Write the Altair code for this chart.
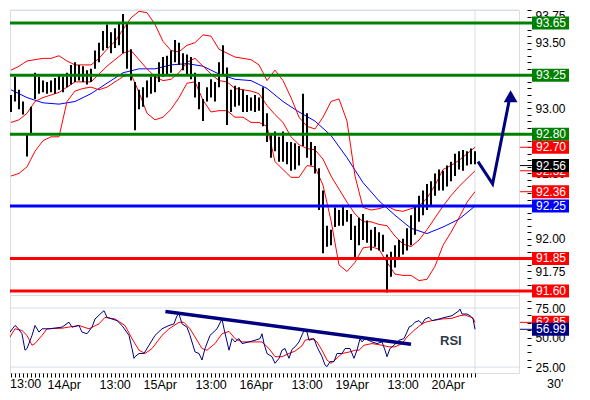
import altair as alt
import pandas as pd

# ---------------- data ----------------
# time axis: trading hours counted from 13Apr 00:00 (weekend removed)
bar_hours = list(range(15, 132))
bar_high = [93.10, 93.24, 93.14, 93.05, 92.81, 93.01, 93.27, 93.24, 93.21, 93.20,
            93.21, 93.23, 93.26, 93.24, 93.27, 93.33, 93.35, 93.33, 93.32, 93.29,
            93.30, 93.44, 93.50, 93.59, 93.64, 93.58, 93.61, 93.65, 93.72, 93.65,
            93.45, 93.20, 93.14, 93.16, 93.21, 93.24, 93.26, 93.35, 93.39, 93.40,
            93.44, 93.52, 93.50, 93.42, 93.41, 93.39, 93.27, 93.20, 93.07, 93.16,
            93.22, 93.20, 93.35, 93.48, 93.31, 93.14, 93.17, 93.16, 93.14, 93.10,
            93.08, 93.10, 93.08, 93.16, 92.96, 92.80, 92.82, 92.78, 92.82, 92.74,
            92.74, 92.73, 92.71, 93.11, 92.96, 92.74, 92.71, 92.54, 92.37, 92.10,
            92.07, 92.24, 92.22, 92.25, 92.22, 92.19, 92.10, 92.16, 92.19, 92.14,
            92.07, 92.09, 92.05, 92.03, 91.88, 91.90, 91.95, 91.99, 92.00, 92.08,
            92.18, 92.25, 92.33, 92.37, 92.42, 92.44, 92.50, 92.53, 92.52, 92.56,
            92.59, 92.65, 92.67, 92.68, 92.67, 92.69, 92.67]
bar_low = [92.97, 93.05, 92.99, 92.95, 92.63, 92.80, 93.07, 93.11, 93.12, 93.11,
           93.12, 93.11, 93.14, 93.12, 93.16, 93.18, 93.20, 93.21, 93.20, 93.18,
           93.20, 93.30, 93.35, 93.44, 93.46, 93.42, 93.46, 93.48, 93.42, 93.30,
           93.21, 92.83, 92.99, 93.01, 93.08, 93.11, 93.12, 93.20, 93.24, 93.26,
           93.27, 93.35, 93.33, 93.29, 93.26, 93.22, 93.08, 92.99, 92.90, 93.05,
           93.08, 93.05, 93.16, 93.26, 92.87, 92.97, 93.01, 93.02, 92.97, 92.97,
           92.98, 92.97, 92.98, 92.86, 92.74, 92.62, 92.67, 92.59, 92.59, 92.57,
           92.52, 92.53, 92.56, 92.71, 92.62, 92.56, 92.50, 92.22, 91.89, 91.94,
           91.95, 92.09, 92.10, 92.10, 92.13, 91.99, 91.86, 91.95, 91.99, 91.97,
           91.91, 91.94, 91.91, 91.90, 91.59, 91.71, 91.78, 91.86, 91.88, 91.91,
           91.95, 92.03, 92.13, 92.18, 92.22, 92.25, 92.33, 92.37, 92.37, 92.40,
           92.44, 92.48, 92.53, 92.52, 92.56, 92.57, 92.57]
last_close = 92.56

band_hours = list(range(15, 132, 2))
band_upper = [93.29, 93.32, 93.36, 93.37, 93.38, 93.38, 93.40, 93.36, 93.33, 93.33,
              93.33, 93.38, 93.45, 93.51, 93.60, 93.69, 93.74, 93.73, 93.64, 93.51,
              93.44, 93.43, 93.48, 93.50, 93.56, 93.55, 93.45, 93.42, 93.39, 93.38,
              93.37, 93.33, 93.21, 93.29, 93.21, 93.08, 92.93, 92.86, 92.84, 92.93,
              93.05, 93.07, 92.90, 92.48, 92.24, 92.22, 92.23, 92.25, 92.22, 92.21,
              92.23, 92.25, 92.31, 92.41, 92.53, 92.56, 92.60, 92.65, 92.70]
band_mid = [92.89, 92.91, 92.96, 93.05, 93.08, 93.10, 93.12, 93.16, 93.20, 93.20,
            93.20, 93.26, 93.32, 93.37, 93.42, 93.44, 93.37, 93.30, 93.24, 93.21,
            93.22, 93.27, 93.35, 93.38, 93.32, 93.26, 93.21, 93.20, 93.15, 93.14,
            93.13, 93.11, 93.02, 92.95, 92.89, 92.78, 92.72, 92.69, 92.68, 92.61,
            92.48, 92.38, 92.28, 92.19, 92.13, 92.13, 92.11, 92.10, 92.02, 91.96,
            91.94, 91.99, 92.07, 92.16, 92.25, 92.33, 92.40, 92.46, 92.52]
band_lower = [92.48, 92.50, 92.55, 92.67, 92.75, 92.78, 92.78, 93.05, 93.13, 93.15,
              93.16, 93.14, 93.16, 93.20, 93.24, 93.26, 93.12, 92.96, 92.91, 92.93,
              92.99, 93.08, 93.19, 93.20, 93.06, 92.97, 92.98, 92.98, 92.93, 92.93,
              92.89, 92.89, 92.86, 92.59, 92.53, 92.47, 92.47, 92.56, 92.55, 92.41,
              92.14, 91.80, 91.75, 91.82, 91.93, 91.94, 91.92, 91.82, 91.73, 91.72,
              91.72, 91.68, 91.69, 91.79, 91.95, 92.05, 92.16, 92.28, 92.36]

ma_hours = list(range(15, 132, 4))
ma_values = [93.14, 93.08, 93.04, 93.03, 93.05, 93.11, 93.19, 93.27, 93.30, 93.30,
             93.33, 93.34, 93.32, 93.26, 93.22, 93.21, 93.15, 93.05, 92.97, 92.90,
             92.79, 92.62, 92.43, 92.29, 92.18, 92.08, 92.04, 92.09, 92.15, 92.25]

rsi_hours = [12.75, 13.5, 14, 14.75, 16, 16.5, 17.75, 18.5, 19, 20.25, 21, 22, 22.75,
             24.5, 27.75, 29.5, 30.25, 32, 32.75, 34, 35.25, 36, 37.75, 38.25, 39,
             40.25, 41.5, 42.75, 44.5, 45.25, 45.75, 46, 47, 48.25, 49.5, 51, 52.75,
             54.5, 55.75, 56.5, 57, 57.75, 59, 59.75, 61, 62, 62.75, 63.5, 64.75,
             66.5, 67.75, 68.25, 69.5, 70.25, 71, 72, 72.75, 74.5, 76, 77.25, 77.75,
             78.25, 79, 80.25, 81, 82, 82.75, 83.5, 84.5, 85.25, 86, 87, 88.25, 89,
             89.5, 90.75, 91.5, 92.75, 93.5, 94, 94.75, 95.75, 96.5, 97.75, 98.5,
             99.75, 100.75, 101.5, 102.25, 102.75, 103.5, 105.25, 106.5, 107.75,
             108.5, 109, 109.75, 110.75, 112, 113.25, 114, 114.5, 115.25, 116, 117,
             117.75, 118.5, 119.5, 120.25, 122, 123.5, 125.25, 127, 127.25, 127.75,
             129, 129.75, 130.5, 131]
rsi_values = [36.5, 62.9, 64.3, 54.6, 60.2, 58.8, 53.2, 39.3, 40.7, 51.8, 60.2, 54.6, 57.4,
              57.4, 58.8, 63.0, 58.8, 60.2, 54.6, 53.2, 58.8, 65.7, 71.3, 72.7, 67.1,
              65.7, 64.3, 60.2, 51.8, 40.7, 32.4, 33.8, 36.5, 36.5, 43.5, 51.8, 57.4,
              60.2, 61.6, 68.5, 69.9, 61.6, 58.8, 51.8, 37.9, 36.5, 31.0, 40.7, 51.8,
              57.4, 65.7, 57.4, 39.3, 49.1, 46.3, 49.1, 44.9, 46.3, 47.7, 49.1, 53.2,
              44.9, 36.5, 33.8, 28.2, 32.4, 39.3, 40.7, 32.4, 40.0, 42.1, 46.3, 56.0, 54.6,
              47.7, 49.1, 42.1, 33.8, 26.8, 25.4, 29.6, 29.6, 36.5, 36.5, 40.7,
              40.7, 32.4, 39.3, 49.1, 46.3, 49.1, 46.3, 44.9, 46.3,
              39.3, 33.8, 40.7, 43.5, 47.7, 49.1, 54.6, 58.8, 60.2, 63.0, 64.3,
              61.6, 65.7, 67.1, 64.3, 65.7, 67.1, 68.5, 72.7, 74.1, 69.9,
              69.9, 68.5, 66.0, 56.99]
sig_hours = [12.75, 14.5, 16, 17.75, 19, 20.25, 21, 22.75, 24, 27.75, 32, 34.5, 37, 38.5,
             41, 43.5, 45.25, 47, 48.5, 50.25, 52.75, 54.5, 57, 58.25, 59.75, 61,
             62.75, 64, 66, 67.75, 69.5, 71, 72.75, 76, 77.75, 79.5, 81, 82.75, 84.5,
             86, 87.75, 88.5, 90.25, 91.5, 92.75, 94, 95, 96, 97.75, 99.75, 101, 102,
             103.25, 105.25, 107.75, 109.5, 111, 112.75, 114, 115.75, 117.25, 118.5,
             120.25, 122.75, 125.25, 127.25, 128.5, 130.5, 131]
sig_values = [36.5, 49.1, 57.4, 56.0, 51.8, 43.5, 44.9, 51.8, 57.4, 57.9, 60.2, 57.4, 61.6,
              67.1, 65.7, 60.2, 49.1, 39.3, 36.5, 40.7, 51.8, 57.4, 62.9, 62.9, 57.4,
              50.5, 40.7, 39.3, 44.9, 53.2, 55.2, 49.1, 46.3, 46.3, 46.3, 40.7, 33.8,
              33.8, 36.5, 38.5, 43.0, 47.7, 49.1, 46.3, 39.3, 31.0, 28.2, 31.0, 36.5,
              37.9, 39.3, 39.3, 43.5, 44.9, 43.5, 42.1, 42.1, 44.9, 50.5, 56.0, 60.2,
              62.9, 64.3, 65.7, 66.3, 68.5, 69.1, 66.5, 62.85]

green_levels = [93.65, 93.25, 92.80]
blue_levels = [92.25]
red_levels = [91.85, 91.60]

rsi_trend_hours = [53.6, 115.0]
rsi_trend_values = [72.1, 44.3]

arrow_hours = [131.75, 135.4, 139.5]
arrow_prices = [92.59, 92.42, 93.05]
arrow_head_hour = [139.9]
arrow_head_price = [93.09]

x_label_hours = [24, 37, 48, 61, 72, 85, 96, 109, 120]
x_label_texts = ["14Apr", "13:00", "15Apr", "13:00", "16Apr", "13:00", "19Apr", "13:00", "20Apr"]
first_label = ["13:00"]
period_label = ["30'"]
rsi_name = ["RSI"]
rsi_name_pos = (122.25, 46.8)

# ---------------- styling ----------------
FONT = "Liberation Sans"
W, H1, H2 = 509, 285, 78
NAVY, RED, GREEN, BLUE, LIGHT = "#000080", "#ff0000", "#008000", "#0000ff", "#d3dfe8"
BOX = "M-1,-0.351L1,-0.351L1,0.351L-1,0.351Z"

xs = alt.Scale(domain=[14.75, 142], nice=False, zero=False)
ps = alt.Scale(domain=[91.57, 93.75], nice=False, zero=False)
rs = alt.Scale(domain=[20, 86], nice=False, zero=False)

price_ticks = [round(91.60 + 0.05 * i, 2) for i in range(44)]
rsi_ticks = [25 + 6.25 * i for i in range(10)]

common_axis = dict(orient="right", offset=8, domain=False, grid=False, tickSize=4,
                   tickColor="black", labelPadding=4, labelFont=FONT, labelFontSize=12,
                   labelColor="black", labelOverlap=False, title=None)
paxis = alt.Axis(values=price_ticks, labelFlush=True,
                 labelExpr="abs(datum.value * 4 - round(datum.value * 4)) < 0.001 ? format(datum.value, '.2f') : ''",
                 **common_axis)
raxis = alt.Axis(values=rsi_ticks, labelFlush=False,
                 labelExpr="datum.value % 25 == 0 ? format(datum.value, '.2f') : ''",
                 **common_axis)
x_expr = "".join(f"datum.value == {h} ? '{t}' : " for h, t in zip(x_label_hours, x_label_texts)) + "''"
xaxis = alt.Axis(orient="bottom", values=bar_hours, labelExpr=x_expr, labelAlign="left",
                 labelBaseline="top", labelPadding=1, tickSize=4, tickColor="black",
                 domain=False, grid=False, labelFont=FONT, labelFontSize=12.5,
                 labelColor="black", labelOverlap=False, labelBound=False,
                 labelFlush=False, title=None)

XP = lambda: alt.X("h:Q", scale=xs, axis=None)
XR = lambda: alt.X("h:Q", scale=xs, axis=xaxis)
PY = lambda f="v": alt.Y(f"{f}:Q", scale=ps, axis=paxis)
RY = lambda f="v": alt.Y(f"{f}:Q", scale=rs, axis=raxis)


def boxes(values, color, Y, text=True):
    df = pd.DataFrame({"v": values})
    b = alt.Chart(df).mark_point(shape=BOX, size=37 * 37, filled=True, opacity=1,
                                 color=color, strokeWidth=0).encode(
        x=alt.value(W + 31.5), y=Y())
    t = alt.Chart(df).mark_text(align="left", baseline="middle", font=FONT, fontSize=12,
                                color="white").encode(
        x=alt.value(W + 17), y=Y(), text=alt.Text("v:Q", format=".2f"))
    return b + t


def stubs(values, color, Y):
    return alt.Chart(pd.DataFrame({"v": values})).mark_rule(color=color, strokeWidth=1).encode(
        x=alt.value(W + 1), x2=alt.value(W + 13), y=Y())


def levels(values, color):
    return alt.Chart(pd.DataFrame({"v": values})).mark_rule(color=color, strokeWidth=3).encode(
        x=alt.value(0), x2=alt.value(W + 13), y=PY())


# ---------------- price panel ----------------
bars_df = pd.DataFrame({"h": bar_hours, "lo": bar_low, "hi": bar_high})
bands_df = pd.concat([
    pd.DataFrame({"h": band_hours, "v": band_upper, "band": "upper"}),
    pd.DataFrame({"h": band_hours, "v": band_mid, "band": "mid"}),
    pd.DataFrame({"h": band_hours, "v": band_lower, "band": "lower"}),
])
ma_df = pd.DataFrame({"h": ma_hours, "v": ma_values})
last_df = pd.DataFrame({"h": [bar_hours[-1]]})

top_grid = alt.Chart(pd.DataFrame({"v": [93.75]})).mark_rule(color=LIGHT).encode(
    x=alt.value(0), x2=alt.value(W), y=PY())
now_line = alt.Chart(last_df).mark_rule(color=LIGHT).encode(
    x=XP(), y=alt.value(0), y2=alt.value(H1))
ma_line = alt.Chart(ma_df).mark_line(color=BLUE, strokeWidth=1, clip=True).encode(x=XP(), y=PY())
band_lines = alt.Chart(bands_df).mark_line(color=RED, strokeWidth=1, clip=True).encode(
    x=XP(), y=PY(), detail="band:N")
bar_marks = alt.Chart(bars_df).mark_rule(color="black", strokeWidth=2, clip=True).encode(
    x=XP(), y=PY("lo"), y2="hi:Q")
arrow = alt.Chart(pd.DataFrame({"h": arrow_hours, "v": arrow_prices})).mark_line(
    color=NAVY, strokeWidth=3).encode(x=XP(), y=PY())
arrow_head = alt.Chart(pd.DataFrame({"h": arrow_head_hour, "v": arrow_head_price})).mark_point(
    shape="triangle-up", size=190, filled=True, opacity=1, color=NAVY).encode(x=XP(), y=PY())

price = alt.layer(
    top_grid, now_line, ma_line, band_lines, bar_marks,
    levels(green_levels, GREEN), levels(blue_levels, BLUE), levels(red_levels, RED),
    arrow, arrow_head,
    stubs([band_upper[-1], band_mid[-1], band_lower[-1]], RED, PY),
    stubs([last_close], "black", PY),
    boxes(green_levels, GREEN, PY), boxes(blue_levels, BLUE, PY),
    boxes(red_levels + [band_upper[-1], band_mid[-1], band_lower[-1]], RED, PY),
    boxes([last_close], "black", PY),
).properties(width=W, height=H1)

# ---------------- RSI panel ----------------
rsi_df = pd.DataFrame({"h": rsi_hours, "v": rsi_values})
sig_df = pd.DataFrame({"h": sig_hours, "v": sig_values})
lv = alt.Chart(pd.DataFrame({"v": [75, 25]})).mark_rule(color=LIGHT).encode(
    x=alt.value(0), x2=alt.value(W), y=RY())
now_line2 = alt.Chart(last_df).mark_rule(color=LIGHT).encode(
    x=XR(), y=alt.value(0), y2=alt.value(H2))
sig_line = alt.Chart(sig_df).mark_line(color=RED, strokeWidth=1, clip=True).encode(x=XR(), y=RY())
rsi_line = alt.Chart(rsi_df).mark_line(color=NAVY, strokeWidth=1, clip=True).encode(x=XR(), y=RY())
trend = alt.Chart(pd.DataFrame({"h": rsi_trend_hours, "v": rsi_trend_values})).mark_line(
    color=NAVY, strokeWidth=3.5).encode(x=XR(), y=RY())
rsi_txt = alt.Chart(pd.DataFrame({"h": [rsi_name_pos[0]], "v": [rsi_name_pos[1]], "t": rsi_name})).mark_text(
    align="left", baseline="middle", font=FONT, fontSize=13, fontWeight="bold", color="#2e3a4a").encode(
    x=XR(), y=RY(), text="t:N")
first_txt = alt.Chart(pd.DataFrame({"t": first_label})).mark_text(
    align="left", baseline="top", font=FONT, fontSize=12.5, color="black").encode(
    x=alt.value(0), y=alt.value(H2 + 5), text="t:N")
period_txt = alt.Chart(pd.DataFrame({"t": period_label})).mark_text(
    align="left", baseline="top", font=FONT, fontSize=12.5, color="black").encode(
    x=alt.value(537), y=alt.value(H2 + 5), text="t:N")

rsi = alt.layer(
    lv, now_line2, sig_line, rsi_line, trend, rsi_txt,
    stubs([sig_values[-1]], RED, RY), stubs([rsi_values[-1]], NAVY, RY),
    boxes([sig_values[-1]], RED, RY), boxes([rsi_values[-1]], NAVY, RY),
    first_txt, period_txt,
).properties(width=W, height=H2)

chart = alt.vconcat(price, rsi, spacing=0, bounds="flush").properties(
    padding=0, background="white"
).configure_view(stroke=None).configure(font=FONT)

chart.save("out.html", embed_options={"renderer": "svg", "actions": False})
